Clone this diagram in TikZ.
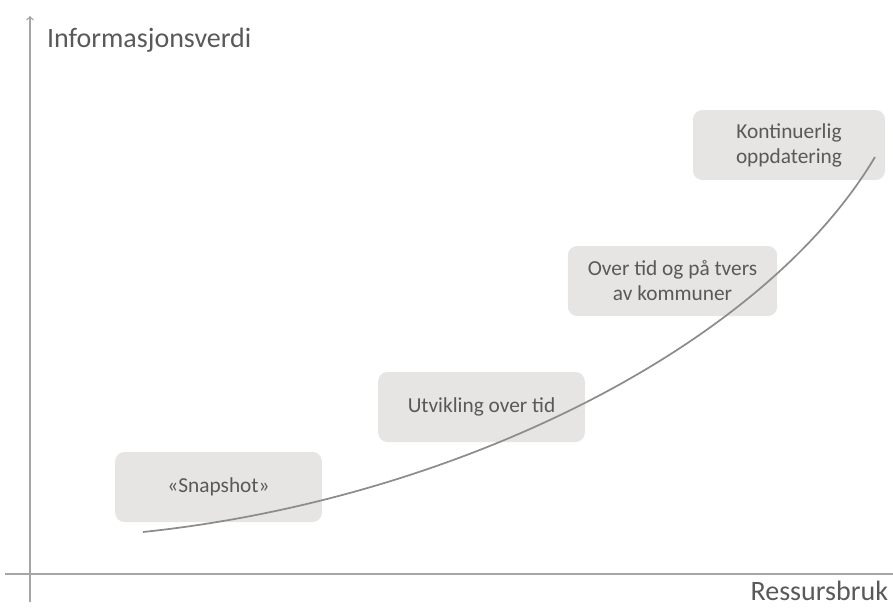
\documentclass[tikz,border=0pt]{standalone}
\usepackage{fontspec}
\setmainfont{Carlito}
\definecolor{boxgray}{HTML}{E7E5E3}
\definecolor{txtgray}{HTML}{595959}
\definecolor{axgray}{HTML}{A6A6A6}
\definecolor{curvegray}{HTML}{8C8C8C}
\begin{document}
\begin{tikzpicture}[x=0.75pt,y=-0.75pt,inner sep=0pt,outer sep=0pt,
stagebox/.style={fill=boxgray,rounded corners=7pt,minimum height=52.5pt,text=txtgray,align=center,font=\fontsize{16}{18.75}\selectfont},
axislabel/.style={text=txtgray,font=\fontsize{21}{25}\selectfont}]
\useasboundingbox (0,0) rectangle (893,608);
% axes
\coordinate (ytop) at (30,16);
\coordinate (ybot) at (30,602);
\coordinate (xleft) at (5,574);
\coordinate (xright) at (893,574);
\draw[->,axgray,line width=1.1pt] (ybot) -- (ytop);
\draw[axgray,line width=1.1pt] (xleft) -- (xright);
\node[axislabel,anchor=west] (yname) at (47,40) {Informasjonsverdi};
\node[axislabel,anchor=east] (xname) at (888,591) {Ressursbruk};

% stages
\node[stagebox,minimum width=155pt] (snap) at (218.5,487) {«Snapshot»};
\node[stagebox,minimum width=155pt] (utv) at (481.5,407) {Utvikling over tid};
\node[stagebox,minimum width=157pt] (tvers) at (672.5,281) {Over tid og på tvers\\av kommuner};
\node[stagebox,minimum width=144pt] (kont) at (789,145) {Kontinuerlig\\oppdatering};

% curve
\coordinate (cstart) at (143,532);
\coordinate (cend) at (875,157);
\draw[curvegray,line width=1.3pt] (cstart) .. controls (450,500) and (760,350) .. (cend);
\end{tikzpicture}
\end{document}
